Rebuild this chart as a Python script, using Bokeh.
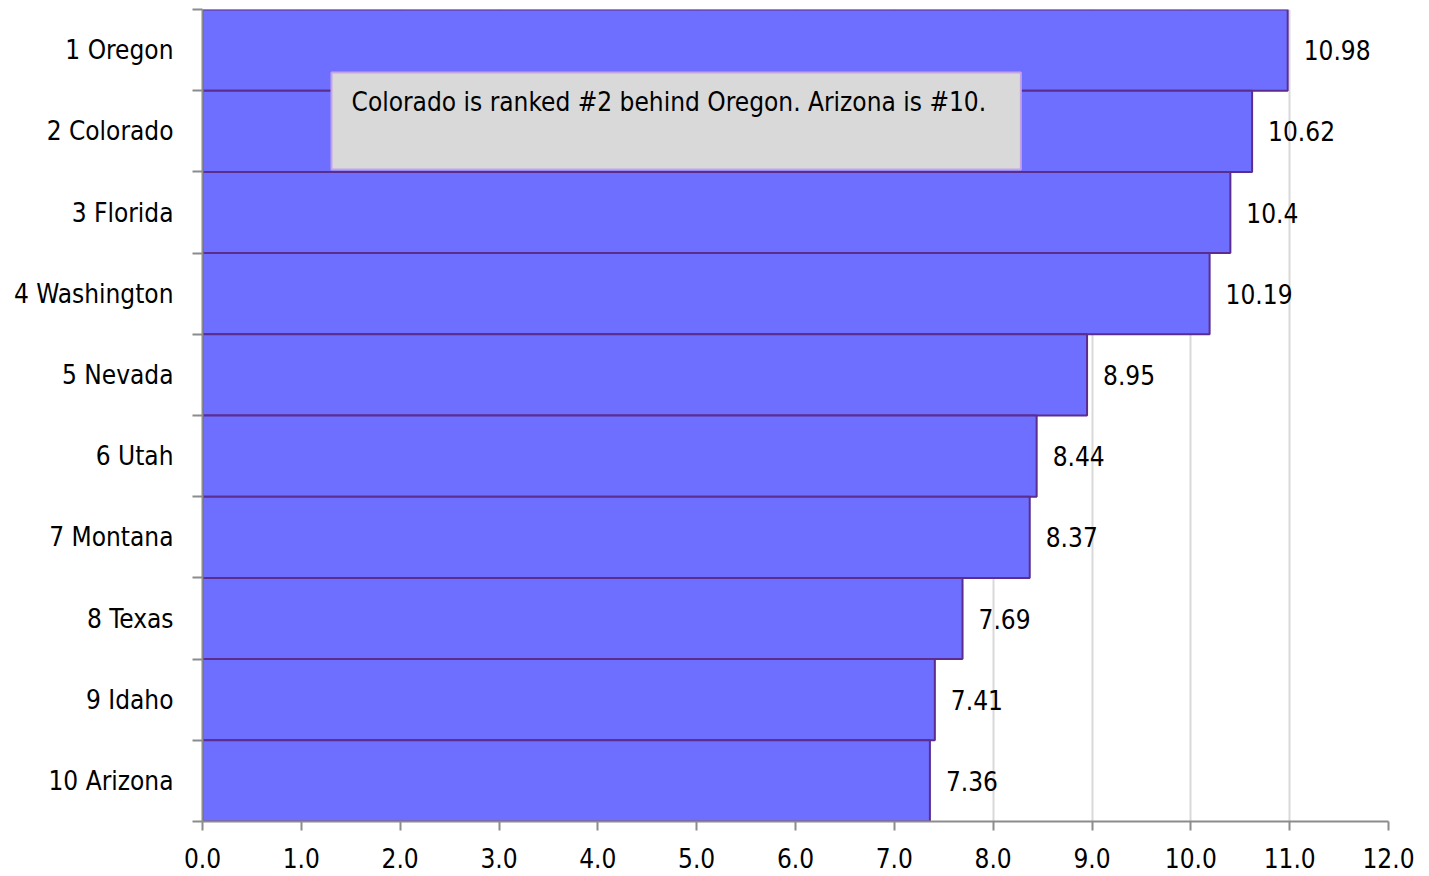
from bokeh.plotting import figure
from bokeh.models import (ColumnDataSource, Range1d, FixedTicker, NumeralTickFormatter,
                          LabelSet, BoxAnnotation, Label)
from bokeh.core.properties import value
from bokeh.embed import file_html
from bokeh.resources import INLINE

states = ["Oregon", "Colorado", "Florida", "Washington", "Nevada",
          "Utah", "Montana", "Texas", "Idaho", "Arizona"]
ranks = [1, 2, 3, 4, 5, 6, 7, 8, 9, 10]
values = [10.98, 10.62, 10.4, 10.19, 8.95, 8.44, 8.37, 7.69, 7.41, 7.36]
x_ticks = [0, 1, 2, 3, 4, 5, 6, 7, 8, 9, 10, 11, 12]
note = "Colorado is ranked #2 behind Oregon. Arizona is #10."

FONT = "'Liberation Sans Narrow', 'DejaVu Sans Condensed', 'Roboto Condensed', 'Liberation Sans', sans-serif"
FS = "26px"
n = len(states)
ypos = [n - r + 0.5 for r in ranks]
cat_labels = [f"{r} {s}" for r, s in zip(ranks, states)]
value_text = [f"{v:g}" for v in values]

src = ColumnDataSource(dict(y=ypos, v=values, t=value_text))

p = figure(width=1429, height=876, output_backend="svg", toolbar_location=None,
           x_range=Range1d(0, 12), y_range=Range1d(0, n),
           min_border_left=202, min_border_right=41, min_border_top=9, min_border_bottom=55)
p.outline_line_color = None
p.background_fill_color = "white"

p.hbar(y="y", right="v", left=0, height=1.0, source=src,
       fill_color="#6e6eff", line_color="#5b2d8e", line_width=2)

labels = LabelSet(x="v", y="y", text="t", source=src, x_offset=16,
                  text_baseline="middle", text_align="left",
                  text_font=value(FONT), text_font_size=value(FS), text_color="black")
p.add_layout(labels)

# annotation box
box = BoxAnnotation(left=1.305, right=8.28, top=9.224, bottom=8.03,
                    fill_color="#d9d9d9", fill_alpha=1.0,
                    line_color="#c3a3e6", line_width=2, line_alpha=1.0)
p.add_layout(box)
p.add_layout(Label(x=1.508, y=8.86, text=note, text_baseline="middle",
                   text_font=FONT, text_font_size=FS, text_color="black"))

# x axis
p.xaxis.ticker = FixedTicker(ticks=x_ticks, minor_ticks=[])
p.xaxis.formatter = NumeralTickFormatter(format="0.0")
p.xaxis.axis_line_color = "#8c8c8c"
p.xaxis.axis_line_width = 2
p.xaxis.major_tick_line_color = "#8c8c8c"
p.xaxis.major_tick_line_width = 2
p.xaxis.major_tick_out = 9
p.xaxis.major_tick_in = 0
p.xaxis.minor_tick_line_color = None
p.xaxis.major_label_text_font = FONT
p.xaxis.major_label_text_font_size = FS
p.xaxis.major_label_text_color = "black"
p.xaxis.major_label_standoff = 17

# y axis
p.yaxis.ticker = FixedTicker(ticks=ypos, minor_ticks=list(range(0, n + 1)))
p.yaxis.major_label_overrides = {y: lab for y, lab in zip(ypos, cat_labels)}
p.yaxis.axis_line_color = "#8c8c8c"
p.yaxis.axis_line_width = 2
p.yaxis.major_tick_line_color = None
p.yaxis.major_tick_out = 0
p.yaxis.major_tick_in = 0
p.yaxis.minor_tick_line_color = "#8c8c8c"
p.yaxis.minor_tick_line_width = 2
p.yaxis.minor_tick_out = 10
p.yaxis.minor_tick_in = 0
p.yaxis.major_label_text_font = FONT
p.yaxis.major_label_text_font_size = FS
p.yaxis.major_label_text_color = "black"
p.yaxis.major_label_standoff = 19

p.ygrid.grid_line_color = None
p.xgrid.grid_line_color = "#d9d9d9"
p.xgrid.grid_line_width = 2

open("out.html", "w").write(file_html(p, INLINE))
